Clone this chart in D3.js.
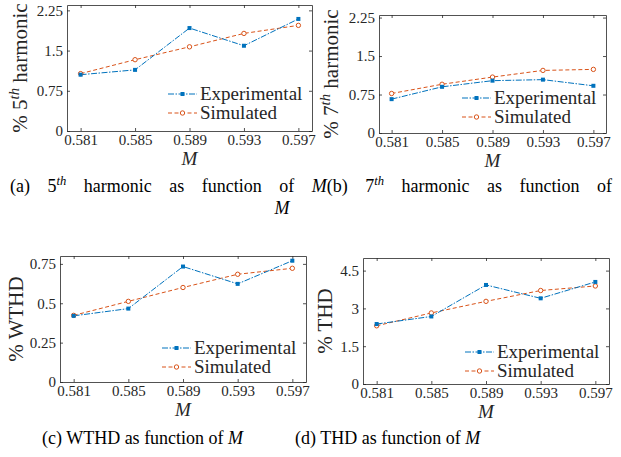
<!DOCTYPE html>
<html>
<head>
<meta charset="utf-8">
<script src="https://cdn.jsdelivr.net/npm/d3@7"></script>
<style>
  body { margin: 0; background: #fff; }
  svg { display: block; }
</style>
</head>
<body>
<svg id="fig" width="621" height="457"></svg>
<script>
// data
var mValues = [0.581, 0.585, 0.589, 0.593, 0.597];
var h5Exp = [1.05, 1.14, 1.92, 1.59, 2.09];
var h5Sim = [1.07, 1.33, 1.57, 1.82, 1.97];
var h7Exp = [0.66, 0.90, 1.02, 1.04, 0.92];
var h7Sim = [0.77, 0.95, 1.09, 1.22, 1.24];
var wthdExp = [0.42, 0.466, 0.733, 0.623, 0.77];
var wthdSim = [0.423, 0.512, 0.60, 0.684, 0.722];
var thdExp = [2.38, 2.68, 3.93, 3.40, 4.05];
var thdSim = [2.31, 2.82, 3.28, 3.71, 3.89];
var seriesNames = ["Experimental", "Simulated"];

var blue = "#0072BD", orange = "#D95319", ink = "#262626";
var serif = "Liberation Serif";
var svg = d3.select("#fig");

// panel layout
var panels = [
  { l: 67, r: 312, t: 5, b: 131, ymax: 2.35, yticks: [0, 0.75, 1.5, 2.25], exp: h5Exp, sim: h5Sim,
    ylab: [{t: "% 5"}, {t: "th", sup: true}, {t: " harmonic"}], ylx: 27, legY: 131 },
  { l: 379, r: 606, t: 15, b: 133, ymax: 2.3, yticks: [0, 0.75, 1.5, 2.25], exp: h7Exp, sim: h7Sim,
    ylab: [{t: "% 7"}, {t: "th", sup: true}, {t: " harmonic"}], ylx: 338, legY: 135 },
  { l: 60, r: 306, t: 256, b: 382, ymax: 0.8, yticks: [0, 0.25, 0.5, 0.75], exp: wthdExp, sim: wthdSim,
    ylab: [{t: "% WTHD"}], ylx: 23, legY: 385 },
  { l: 363, r: 609, t: 258, b: 384, ymax: 5, yticks: [0, 1.5, 3, 4.5], exp: thdExp, sim: thdSim,
    ylab: [{t: "% THD"}], ylx: 332, legY: 389 }
];

function addParts(text, parts, size) {
  parts.forEach(function (p, i) {
    var ts = text.append("tspan").text(p.t);
    if (p.italic) ts.attr("font-style", "italic");
    if (p.sup) ts.attr("font-style", "italic").attr("font-size", size * 0.7).attr("dy", -size * 0.38);
    else if (i > 0 && parts[i - 1].sup) ts.attr("dy", size * 0.38);
  });
}

panels.forEach(function (p) {
  var x = d3.scaleLinear().domain([0.580, 0.598]).range([p.l, p.r]);
  var y = d3.scaleLinear().domain([0, p.ymax]).range([p.b, p.t]);
  var g = svg.append("g");

  g.append("g").attr("transform", "translate(0," + p.b + ")")
    .call(d3.axisBottom(x).tickValues(mValues).tickSize(-3).tickSizeOuter(0).tickPadding(3).tickFormat(d3.format(".3f")));
  g.append("g").attr("transform", "translate(0," + p.t + ")")
    .call(d3.axisTop(x).tickValues(mValues).tickSize(-3).tickSizeOuter(0).tickFormat(""));
  g.append("g").attr("transform", "translate(" + p.l + ",0)")
    .call(d3.axisLeft(y).tickValues(p.yticks).tickSize(-3).tickSizeOuter(0).tickPadding(4).tickFormat(function (d) { return String(d); }));
  g.append("g").attr("transform", "translate(" + p.r + ",0)")
    .call(d3.axisRight(y).tickValues(p.yticks).tickSize(-3).tickSizeOuter(0).tickFormat(""));

  g.selectAll("g").attr("font-family", serif);
  g.selectAll(".domain").attr("stroke", ink).attr("stroke-width", 0.8);
  g.selectAll(".tick line").attr("stroke", ink).attr("stroke-width", 0.8);
  g.selectAll(".tick text").attr("fill", ink).attr("font-size", 15).attr("font-family", serif);

  // x label
  g.append("text").attr("x", (p.l + p.r) / 2).attr("y", p.b + 34)
    .attr("text-anchor", "middle").attr("font-size", 19).attr("font-style", "italic")
    .attr("font-family", serif).attr("fill", ink).text("M");

  // y label
  var yl = g.append("text")
    .attr("transform", "translate(" + p.ylx + "," + (p.t + p.b) / 2 + ") rotate(-90)")
    .attr("text-anchor", "middle").attr("font-size", 21).attr("font-family", serif).attr("fill", ink);
  addParts(yl, p.ylab, 21);

  var line = d3.line().x(function (d, i) { return x(mValues[i]); }).y(function (d) { return y(d); });

  g.append("path").datum(p.sim).attr("d", line).attr("fill", "none")
    .attr("stroke", orange).attr("stroke-width", 1).attr("stroke-dasharray", "4,2.5");
  g.append("path").datum(p.exp).attr("d", line).attr("fill", "none")
    .attr("stroke", blue).attr("stroke-width", 1).attr("stroke-dasharray", "6,1.5,1.5,1.5");

  g.selectAll(".sim").data(p.sim).enter().append("circle")
    .attr("cx", function (d, i) { return x(mValues[i]); }).attr("cy", function (d) { return y(d); })
    .attr("r", 2.2).attr("fill", "#fff").attr("stroke", orange).attr("stroke-width", 1);
  g.selectAll(".exp").data(p.exp).enter().append("rect")
    .attr("x", function (d, i) { return x(mValues[i]) - 2; }).attr("y", function (d) { return y(d) - 2; })
    .attr("width", 4).attr("height", 4).attr("fill", blue);

  // legend
  var lx = p.r - 112, ys = [p.legY - 37, p.legY - 18];
  seriesNames.forEach(function (name, k) {
    var col = k === 0 ? blue : orange;
    var lg = g.append("g").attr("transform", "translate(" + lx + "," + ys[k] + ")");
    lg.append("line").attr("x1", -32).attr("x2", -3).attr("stroke", col).attr("stroke-width", 1)
      .attr("stroke-dasharray", k === 0 ? "6,1.5,1.5,1.5" : "4,2.5");
    if (k === 0) lg.append("rect").attr("x", -19.5).attr("y", -2).attr("width", 4).attr("height", 4).attr("fill", col);
    else lg.append("circle").attr("cx", -17.5).attr("r", 2.2).attr("fill", "#fff").attr("stroke", col);
    lg.append("text").attr("x", 0).attr("y", 6).attr("font-size", 19).attr("font-family", serif)
      .attr("fill", ink).text(name);
  });
});

// captions
function word(parent, parts, size) {
  var t = parent.append("text").attr("font-size", size).attr("font-family", serif).attr("fill", "#000");
  addParts(t, parts, size);
  return t;
}

var capSize = 18;
var line1 = [
  [{t: "(a)"}], [{t: "5"}, {t: "th", sup: true}], [{t: "harmonic"}], [{t: "as"}], [{t: "function"}], [{t: "of"}],
  [{t: "M", italic: true}, {t: "(b)"}], [{t: "7"}, {t: "th", sup: true}], [{t: "harmonic"}], [{t: "as"}], [{t: "function"}], [{t: "of"}]
];
var capG = svg.append("g");
var words = line1.map(function (w) { return word(capG, w, capSize).attr("y", 192); });
var widths = words.map(function (w) { return w.node().getComputedTextLength(); });
var gap = (612 - 10 - d3.sum(widths)) / (words.length - 1);
var cx = 10;
words.forEach(function (w, i) { w.attr("x", cx); cx += widths[i] + gap; });

word(capG, [{t: "M", italic: true}], capSize).attr("x", 282).attr("y", 214).attr("text-anchor", "middle");
word(capG, [{t: "(c) WTHD as function of "}, {t: "M", italic: true}], capSize).attr("x", 42).attr("y", 444);
word(capG, [{t: "(d) THD as function of "}, {t: "M", italic: true}], capSize).attr("x", 295).attr("y", 444);
</script>
</body>
</html>
